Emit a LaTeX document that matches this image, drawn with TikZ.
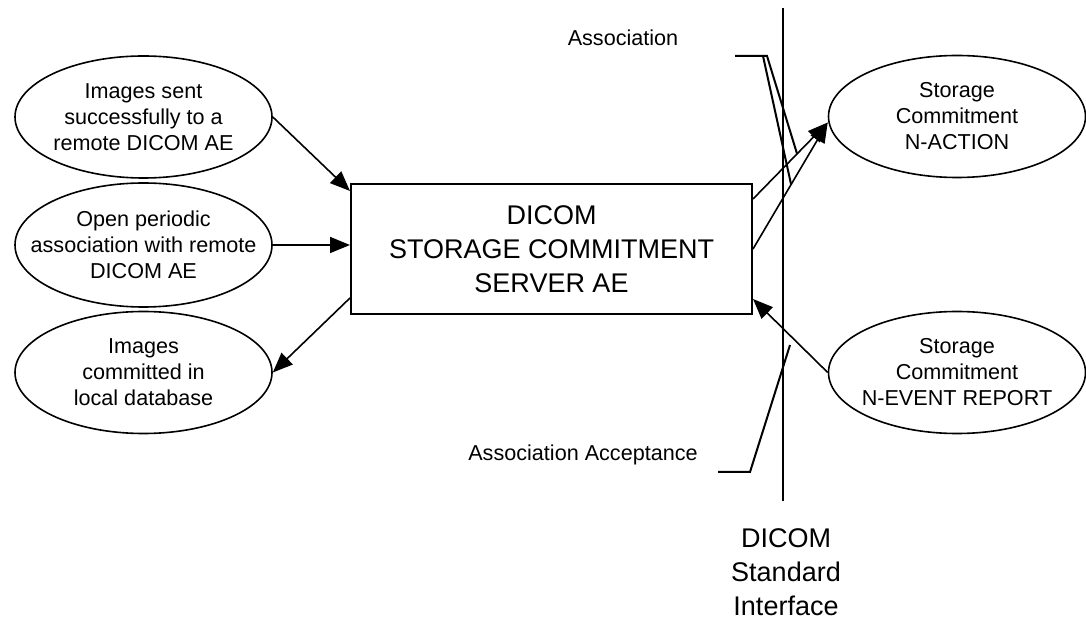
\documentclass[tikz,border=0pt]{standalone}
\usepackage{fontspec}
\setmainfont{Liberation Sans}
\usetikzlibrary{shapes.geometric,arrows.meta}

\begin{document}
\begin{tikzpicture}[x=0.5pt,y=-0.5pt,line width=0.8pt,
  oval/.style={draw,ellipse,minimum width=128.5pt,minimum height=61pt,inner sep=0pt},
  txt/.style={align=center,font=\fontsize{10.8}{13}\selectfont,inner sep=0pt},
  big/.style={align=center,font=\fontsize{13.5}{17}\selectfont,inner sep=0pt},
  flow/.style={-{Triangle[length=10pt,width=8pt]}},
  callout/.style={line width=1pt}]
\useasboundingbox (0,0) rectangle (1086,619);
% left side
\node[oval] (sent) at (143.5,117) {};
\node[txt] (senttext) at (sent) {Images sent\\successfully to a\\remote DICOM AE};
\node[oval,minimum height=62pt] (periodic) at (143.5,245) {};
\node[txt] (periodictext) at (periodic) {Open periodic\\association with remote\\DICOM AE};
\node[oval] (committed) at (143.5,372.5) {};
\node[txt] (committedtext) at (committed) {Images\\committed in\\local database};
% server
\node[draw,line width=1pt,minimum width=200.5pt,minimum height=65pt,big] (server) at (551.5,249)
  {DICOM\\STORAGE COMMITMENT\\SERVER AE};
% right side
\node[oval] (action) at (957,116.5) {};
\node[txt] (actiontext) at (action) {Storage\\Commitment\\N-ACTION};
\node[oval] (report) at (957,372.5) {};
\node[txt] (reporttext) at (report) {Storage\\Commitment\\N-EVENT REPORT};
% interface line
\path (783,8) coordinate (iftop) (783,501) coordinate (ifbot);
\draw (iftop) -- (ifbot);
\node[big] (iflabel) at (786,572) {DICOM\\Standard\\Interface};
% arrows
\draw[flow] (sent.east) -- ([yshift=-4pt]server.north west);
\draw[flow] (periodic.east) -- (periodic.east -| server.west);
\draw[flow] ([yshift=8.5pt]server.south west) -- (committed.east);
\draw[flow] ([yshift=-8pt]server.north east) -- coordinate[pos=0.59] (upperhit) ([yshift=-3pt]action.west);
\draw[flow] (server.east) -- coordinate[pos=0.51] (lowerhit) ([yshift=-3pt]action.west);
\draw[flow] (report.west) -- ([yshift=8pt]server.south east);
% callouts
\node[txt] (assoclabel) at (623,38) {Association};
\path (735,56) coordinate (assocfoot) ++(28,0) coordinate (assocknee) ++(4,0) coordinate (assocknee2);
\draw[callout] (assocfoot) -- (assocknee) -- (lowerhit);
\draw[callout] (assocknee) -- (assocknee2) -- (upperhit);
\node[txt] (acclabel) at (583,455) {Association Acceptance};
\path (718,472) coordinate (accfoot) ++(32,0) coordinate (accknee) (790,345) coordinate (acctip);
\draw[callout] (accfoot) -- (accknee) -- (acctip);
\end{tikzpicture}
\end{document}
